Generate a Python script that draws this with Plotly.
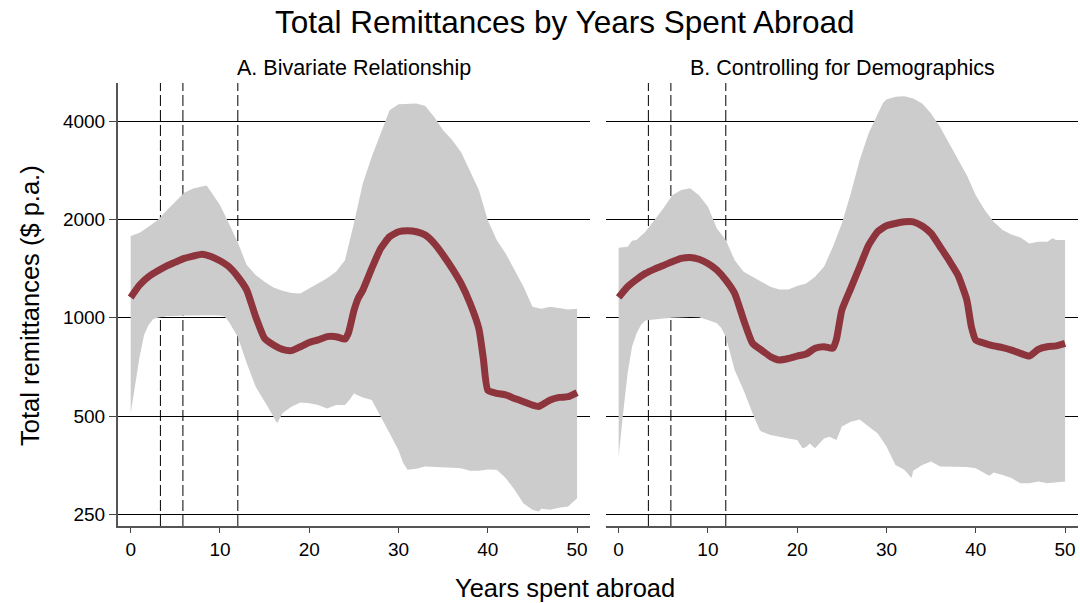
import numpy as np
import plotly.graph_objects as go

# ---------------- data ----------------
years_line_a = [0, 1, 2, 3, 4, 5, 6, 7, 8, 9, 10, 11, 12, 13, 14, 15, 16, 17, 18, 19, 20,
                21, 22, 23, 24, 24.4, 25, 25.5, 26, 27, 28, 29, 30, 31, 32, 33, 34, 35, 36,
                37, 38, 39, 39.5, 40, 41, 42, 43, 44, 45, 45.7, 46, 47, 48, 49, 50]
remit_line_a = [1154, 1260, 1335, 1390, 1440, 1480, 1520, 1545, 1565, 1540, 1494, 1433, 1335,
                1215, 1007, 864, 825, 800, 793, 815, 840, 855, 875, 875, 860, 900, 1050, 1150,
                1215, 1416, 1630, 1770, 1834, 1846, 1834, 1791, 1689, 1555, 1416, 1274, 1110,
                925, 750, 600, 587, 580, 566, 553, 540, 535, 540, 560, 570, 573, 590]

years_upper_a = [0, 1, 2, 3, 4, 5, 6, 7, 8, 8.5, 9, 10, 11, 12, 13, 14, 15, 16, 17, 18, 19, 20,
                 21, 22, 23, 24, 25, 26, 27, 28, 29, 30, 31, 32, 33, 34, 35, 36, 37, 38, 39,
                 40, 41, 42, 43, 44, 45, 46, 47, 48, 49, 50]
upper_a = [1780, 1820, 1899, 1990, 2126, 2265, 2413, 2488, 2530, 2540, 2430, 2213, 1944, 1700,
           1450, 1351, 1289, 1238, 1210, 1190, 1187, 1230, 1274, 1320, 1383, 1501, 1944, 2578,
           3110, 3670, 4320, 4510, 4530, 4530, 4450, 4120, 3750, 3500, 3220, 2830, 2460, 1990,
           1730, 1574, 1400, 1244, 1080, 1065, 1080, 1070, 1060, 1065]

years_lower_a = [0, 0.2, 1, 1.5, 2, 2.5, 3, 4, 5, 6, 7, 8, 9, 10, 10.5, 11, 11.5, 12, 13, 14,
                 15, 15.6, 16.4, 17, 18, 19, 20, 21, 22, 23, 24, 24.5, 25, 26, 27, 28, 29, 30,
                 30.5, 31, 32, 33, 34, 35, 36, 37, 38, 39, 40, 41, 42, 43, 44, 45, 45.7, 46, 47,
                 48, 49, 50]
lower_a = [510, 560, 760, 885, 950, 990, 1000, 1010, 1012, 1015, 1015, 1018, 1018, 1015, 1010,
           972, 920, 875, 725, 615, 553, 520, 475, 510, 534, 550, 547, 540, 527, 540, 540, 560,
           586, 570, 560, 498, 443, 393, 360, 342, 345, 350, 350, 348, 347, 346, 340, 340, 343,
           342, 323, 297, 270, 258, 255, 260, 258, 262, 264, 280]

years_line_b = [0, 1, 2, 3, 4, 5, 6, 7, 8, 9, 10, 11, 12, 13, 14, 15, 16, 17, 18, 19, 20, 21,
                22, 23, 24, 24.4, 25, 26, 27, 28, 29, 30, 31, 32, 33, 34, 35, 36, 37, 38, 39,
                39.5, 40, 41, 42, 43, 44, 45, 46, 47, 48, 49, 50]
remit_line_b = [1154, 1244, 1310, 1367, 1409, 1446, 1484, 1519, 1530, 1510, 1467, 1400, 1304,
                1187, 984, 835, 796, 760, 742, 750, 763, 774, 806, 815, 806, 860, 1055, 1230,
                1433, 1669, 1834, 1913, 1944, 1967, 1967, 1910, 1812, 1650, 1500, 1351, 1133,
                940, 854, 835, 820, 810, 796, 778, 763, 800, 815, 820, 835]

years_upper_b = [0, 1, 1.5, 2, 3, 4, 5, 6, 7, 8, 9, 10, 11, 12, 13, 14, 15, 16, 17, 18, 19, 20,
                 21, 22, 23, 24, 25, 26, 27, 28, 29, 29.6, 30, 31, 32, 33, 34, 35, 36, 37, 38,
                 39, 40, 41, 42, 43, 44, 45, 46, 47, 48, 48.6, 49, 50]
upper_b = [1638, 1650, 1720, 1730, 1834, 1990, 2160, 2370, 2460, 2490, 2370, 2187, 1877, 1730,
           1500, 1383, 1335, 1289, 1244, 1220, 1220, 1250, 1274, 1335, 1433, 1650, 1944, 2400,
           3040, 3670, 4220, 4550, 4660, 4750, 4770, 4690, 4530, 4220, 3840, 3420, 3040, 2730,
           2370, 2136, 1967, 1855, 1800, 1760, 1689, 1710, 1710, 1750, 1730, 1730]

years_lower_b = [0, 0.5, 1, 1.5, 2, 2.5, 3, 4, 5, 6, 7, 8, 9, 10, 11, 11.5, 12, 13, 14, 15,
                 15.8, 16, 17, 18, 19, 20, 20.6, 21, 21.4, 22, 23, 23.6, 24, 24.4, 25, 26, 27,
                 28, 29, 30, 31, 32, 32.8, 33, 34, 35, 36, 37, 38, 39, 40, 41, 41.5, 42, 43, 44,
                 45, 46, 47, 48, 49, 50]
lower_b = [375, 510, 675, 815, 895, 950, 980, 990, 995, 1000, 1005, 1005, 1003, 984, 961, 930,
           875, 691, 600, 510, 453, 448, 437, 432, 427, 422, 398, 402, 412, 398, 427, 432, 427,
           422, 464, 480, 488, 464, 443, 403, 354, 342, 323, 340, 354, 363, 350, 349, 349, 349,
           346, 334, 328, 336, 330, 323, 311, 311, 315, 311, 313, 315]

cutoffs = [3.33, 5.85, 12.0]
y_ticks = [250, 500, 1000, 2000, 4000]
y_ticktext = ["250", "500", "1000", "2000", "4000"]
x_ticks = [0, 10, 20, 30, 40, 50]

title = "Total Remittances by Years Spent Abroad"
panel_titles = ["A. Bivariate Relationship", "B. Controlling for Demographics"]
y_title = "Total remittances ($ p.a.)"
x_title = "Years spent abroad"

# ---------------- styling ----------------
FONT = "Liberation Sans, Arial, Helvetica, sans-serif"
LINE_COLOR = "#8E343C"
BAND_COLOR = "#CCCCCC"

fig = go.Figure()

panels = [
    ("x", "y", years_line_a, remit_line_a, years_upper_a, upper_a, years_lower_a, lower_a),
    ("x2", "y2", years_line_b, remit_line_b, years_upper_b, upper_b, years_lower_b, lower_b),
]

for xa, ya, xl, yl, xu, yu, xlo, ylo in panels:
    band_x = list(xu) + list(xlo)[::-1]
    band_y = list(yu) + list(ylo)[::-1]
    fig.add_trace(go.Scatter(x=band_x, y=band_y, xaxis=xa, yaxis=ya, mode="lines",
                             fill="toself", fillcolor=BAND_COLOR, line=dict(width=0),
                             hoverinfo="skip", showlegend=False))
    fig.add_trace(go.Scatter(x=xl, y=yl, xaxis=xa, yaxis=ya, mode="lines",
                             line=dict(color=LINE_COLOR, width=7, shape="spline", smoothing=0.5),
                             showlegend=False))

shapes = []
for xa, ya in [("x", "y"), ("x2", "y2")]:
    for c in cutoffs:
        shapes.append(dict(type="line", xref=xa, yref=f"{ya} domain", x0=c, x1=c, y0=0, y1=1,
                           line=dict(color="black", width=1, dash="11px,4px"), layer="below"))

xr = [-1.42, 51.45]
yr = [np.log10(230.2), np.log10(5235)]

axis_x_common = dict(range=xr, tickvals=x_ticks, showgrid=False, zeroline=False,
                     ticks="outside", ticklen=5, tickwidth=1, tickcolor="#444",
                     showline=True, linecolor="#555", linewidth=2,
                     tickfont=dict(size=19, color="black", family=FONT))

fig.update_layout(
    width=1080, height=603,
    paper_bgcolor="white", plot_bgcolor="white",
    margin=dict(l=118, r=2, t=83, b=77),
    font=dict(family=FONT, color="black"),
    xaxis=dict(domain=[0, 0.4917], anchor="y", **axis_x_common),
    xaxis2=dict(domain=[0.5083, 1.0], anchor="y2", **axis_x_common),
    yaxis=dict(type="log", range=yr, tickvals=y_ticks, ticktext=y_ticktext,
               showgrid=True, gridcolor="black", gridwidth=1, zeroline=False,
               ticks="outside", ticklen=7, tickwidth=1, tickcolor="#444",
               showline=True, linecolor="#555", linewidth=2, anchor="x",
               tickfont=dict(size=19, color="black", family=FONT)),
    yaxis2=dict(type="log", range=yr, tickvals=y_ticks, showticklabels=False,
                showgrid=True, gridcolor="black", gridwidth=1, zeroline=False,
                ticks="", showline=False, anchor="x2"),
    shapes=shapes,
    annotations=[
        dict(text=title, xref="paper", yref="paper", x=0.4656, y=1.1377,
             xanchor="center", yanchor="middle", showarrow=False,
             font=dict(size=31.5, family=FONT, color="black")),
        dict(text=panel_titles[0], xref="paper", yref="paper", x=0.2458, y=1.034,
             xanchor="center", yanchor="middle", showarrow=False,
             font=dict(size=21.5, family=FONT, color="black")),
        dict(text=panel_titles[1], xref="paper", yref="paper", x=0.7542, y=1.034,
             xanchor="center", yanchor="middle", showarrow=False,
             font=dict(size=21.5, family=FONT, color="black")),
        dict(text=y_title, xref="paper", yref="paper", x=-0.0917, y=0.499,
             xanchor="center", yanchor="middle", showarrow=False, textangle=-90,
             font=dict(size=25.5, family=FONT, color="black")),
        dict(text=x_title, xref="paper", yref="paper", x=0.4656, y=-0.14,
             xanchor="center", yanchor="middle", showarrow=False,
             font=dict(size=25.5, family=FONT, color="black")),
    ],
)

# remove the browser's default 8px body margin so the figure sits at the page corner
fig.write_html("out.html", config={"displayModeBar": False},
               post_script="document.body.style.margin='0px';")
